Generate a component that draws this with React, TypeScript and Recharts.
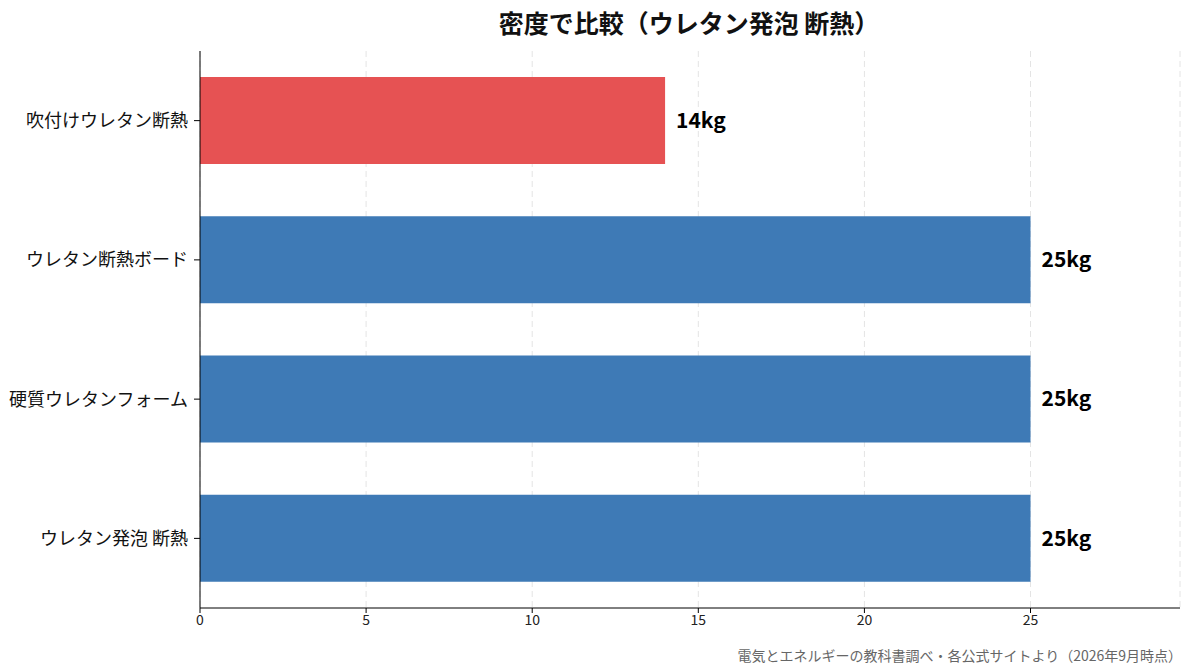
import React from 'react';
import {
  BarChart,
  Bar,
  XAxis,
  YAxis,
  CartesianGrid,
  Cell,
  LabelList,
} from 'recharts';

const categories = ['吹付けウレタン断熱', 'ウレタン断熱ボード', '硬質ウレタンフォーム', 'ウレタン発泡 断熱'];
const densities = [14, 25, 25, 25];
const barColors = ['#e65253', '#3e7ab6', '#3e7ab6', '#3e7ab6'];
const xTicks = [0, 5, 10, 15, 20, 25];

const FONT = '"Noto Sans CJK JP", "Noto Sans", sans-serif';

const chartData = categories.map((name, i) => ({
  name,
  value: densities[i],
  fill: barColors[i],
}));

export default function App() {
  return (
    <div style={{ position: 'relative', width: 1193, height: 672, fontFamily: FONT, background: '#fff' }}>
      <style>{'body{margin:0}'}</style>
      <div
        style={{
          position: 'absolute',
          top: 4,
          left: 199,
          width: 980,
          textAlign: 'center',
          fontSize: 25,
          fontWeight: 700,
          color: '#111',
        }}
      >
        密度で比較（ウレタン発泡 断熱）
      </div>
      <BarChart
        width={1193}
        height={672}
        data={chartData}
        layout="vertical"
        margin={{ top: 51, right: 13, left: 0, bottom: 34 }}
        barSize={87}
      >
        <CartesianGrid horizontal={false} strokeDasharray="6 4" stroke="#e4e4e4" />
        <XAxis
          type="number"
          domain={[0, 29.5]}
          ticks={xTicks}
          height={30}
          tick={{ fontSize: 14, fill: '#222', fontFamily: FONT }}
          axisLine={{ stroke: '#000' }}
          tickLine={{ stroke: '#000' }}
          tickSize={5}
        />
        <YAxis
          type="category"
          dataKey="name"
          width={200}
          tick={{ fontSize: 18, fill: '#111', fontFamily: FONT }}
          axisLine={{ stroke: '#000' }}
          tickLine={{ stroke: '#000' }}
          tickSize={6}
          tickMargin={6}
        />
        <Bar dataKey="value" isAnimationActive={false}>
          {chartData.map((entry, index) => (
            <Cell key={`cell-${index}`} fill={entry.fill} />
          ))}
          <LabelList
            dataKey="value"
            position="right"
            offset={11}
            formatter={(v: any) => `${v}kg`}
            style={{ fontSize: 21, fontWeight: 700, fill: '#000', fontFamily: FONT }}
          />
        </Bar>
      </BarChart>
      <div
        style={{
          position: 'absolute',
          right: 11,
          top: 645,
          fontSize: 14,
          color: '#666',
        }}
      >
        電気とエネルギーの教科書調べ・各公式サイトより（2026年9月時点）
      </div>
    </div>
  );
}
